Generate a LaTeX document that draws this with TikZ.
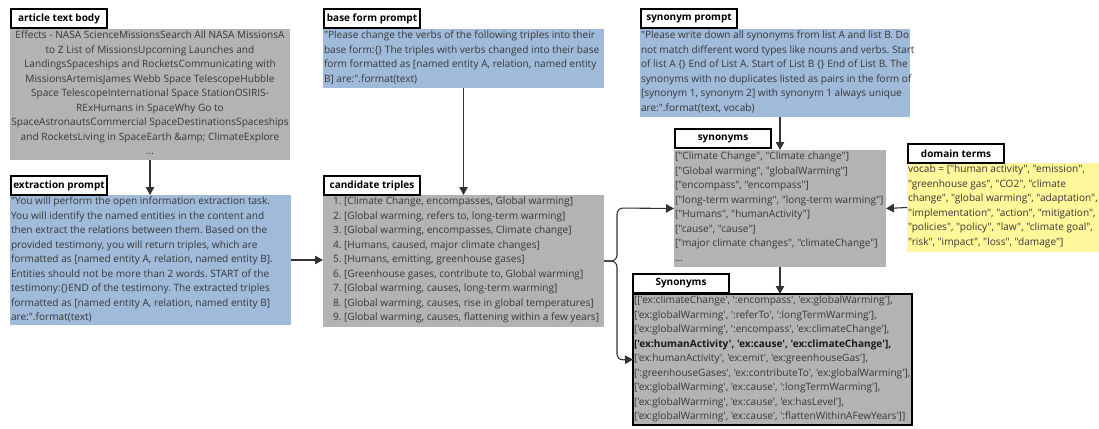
\documentclass[tikz,border=0pt]{standalone}
\usepackage{fontspec}
\newfontfamily\osans{Open Sans}
\usetikzlibrary{arrows.meta}
\definecolor{boxgrey}{RGB}{179,179,179}
\definecolor{boxblue}{RGB}{160,186,218}
\definecolor{boxyellow}{RGB}{255,247,153}
\definecolor{txtgrey}{RGB}{55,55,55}
\frenchspacing
\begin{document}
\begin{tikzpicture}[x=1pt,y=-1pt,
  every node/.style={inner sep=0pt, outer sep=0pt},
  body/.style={font=\osans\frenchspacing\fontsize{10.1}{14.5}\selectfont, text=txtgrey},
  panel/.style={anchor=north west, minimum width=#1},
  head/.style={draw=black, line width=2pt, fill=white, anchor=north west,
    minimum width=96, minimum height=19, font=\osans\bfseries\fontsize{10}{11}\selectfont},
  arr/.style={line width=1.1pt, draw=black!80, -{Triangle[length=8pt,width=8.5pt]}}]
\useasboundingbox (0,0) rectangle (1099,428);

% ---------- article text body ----------
\node[panel=280, fill=boxgrey, minimum height=131] (art) at (10,29) {};
\node[body, align=center, anchor=north] (artT) at (150,31) {Effects - NASA ScienceMissionsSearch All NASA MissionsA\\
to Z List of MissionsUpcoming Launches and\\
LandingsSpaceships and RocketsCommunicating with\\
MissionsArtemisJames Webb Space TelescopeHubble\\
Space TelescopeInternational Space StationOSIRIS-\\
RExHumans in SpaceWhy Go to\\
SpaceAstronautsCommercial SpaceDestinationsSpaceships\\
and RocketsLiving in SpaceEarth \&amp; ClimateExplore\\
...};
\node[head] (artH) at (11,9) {article text body};

% ---------- extraction prompt ----------
\node[panel=281, fill=boxblue, minimum height=130] (ext) at (10,195) {};
\node[body, align=left, anchor=north west] (extT) at (11,197) {"You will perform the open information extraction task.\\
You will identify the named entities in the content and\\
then extract the relations between them. Based on the\\
provided testimony, you will return triples, which are\\
formatted as [named entity A, relation, named entity B].\\
Entities should not be more than 2 words. START of the\\
testimony:\{\}END of the testimony. The extracted triples\\
formatted as [named entity A, relation, named entity B]\\
are:".format(text)};
\node[head] (extH) at (11,176) {extraction prompt};

% ---------- base form prompt ----------
\node[panel=281, fill=boxblue, minimum height=59] (base) at (323,29) {};
\node[body, align=left, anchor=north west] (baseT) at (324,31) {"Please change the verbs of the following triples into their\\
base form:\{\} The triples with verbs changed into their base\\
form formatted as [named entity A, relation, named entity\\
B] are:".format(text)};
\node[head] (baseH) at (324,9) {base form prompt};

% ---------- candidate triples ----------
\node[panel=281, fill=boxgrey, minimum height=132] (cand) at (323,195) {};
\node[body, align=left, anchor=north west] (candT) at (333,197) {1. [Climate Change, encompasses, Global warming]\\
2. [Global warming, refers to, long-term warming]\\
3. [Global warming, encompasses, Climate change]\\
4. [Humans, caused, major climate changes]\\
5. [Humans, emitting, greenhouse gases]\\
6. [Greenhouse gases, contribute to, Global warming]\\
7. [Global warming, causes, long-term warming]\\
8. [Global warming, causes, rise in global temperatures]\\
9. [Global warming, causes, flattening within a few years]};
\node[head] (candH) at (324,176) {candidate triples};

% ---------- synonym prompt ----------
\node[panel=270, fill=boxblue, minimum height=88] (synp) at (640,29) {};
\node[body, align=left, anchor=north west] (synpT) at (641,31) {"Please write down all synonyms from list A and list B. Do\\
not match different word types like nouns and verbs. Start\\
of list A \{\} End of List A. Start of List B \{\} End of List B. The\\
synonyms with no duplicates listed as pairs in the form of\\
{}[synonym 1, synonym 2] with synonym 1 always unique\\
are:".format(text, vocab)};
\node[head] (synpH) at (641,9) {synonym prompt};

% ---------- synonyms ----------
\node[panel=212, fill=boxgrey, minimum height=117] (syn) at (674,150) {};
\node[body, align=left, anchor=north west] (synT) at (675,152) {{}["Climate Change", "Climate change"]\\
{}["Global warming", "globalWarming"]\\
{}["encompass", "encompass"]\\
{}["long-term warming", "long-term warming"]\\
{}["Humans", "humanActivity"]\\
{}["cause", "cause"]\\
{}["major climate changes", "climateChange"]\\
...};
\node[head] (synH) at (675,129) {synonyms};

% ---------- domain terms ----------
\node[panel=192, fill=boxyellow, minimum height=89] (dom) at (907,163) {};
\node[body, align=left, anchor=north west] (domT) at (908,165) {vocab = ["human activity", "emission",\\
"greenhouse gas", "CO2", "climate\\
change", "global warming", "adaptation",\\
"implementation", "action", "mitigation",\\
"policies", "policy", "law", "climate goal",\\
"risk", "impact", "loss", "damage"]};
\node[head] (domH) at (908,144) {domain terms};

% ---------- resulting Synonyms ----------
\node[panel=279, fill=boxgrey, draw=black, line width=2.2pt, minimum height=131] (res) at (633,294) {};
\node[body, align=left, anchor=north west] (resT) at (634,296) {{}[['ex:climateChange', ':encompass', 'ex:globalWarming'],\\
{}['ex:globalWarming', ':referTo', ':longTermWarming'],\\
{}['ex:globalWarming', ':encompass', 'ex:climateChange'],\\
{\bfseries\color{black!90}['ex:humanActivity', 'ex:cause', 'ex:climateChange'],}\\
{}['ex:humanActivity', 'ex:emit', 'ex:greenhouseGas'],\\
{}[':greenhouseGases', 'ex:contributeTo', 'ex:globalWarming'],\\
{}['ex:globalWarming', 'ex:cause', ':longTermWarming'],\\
{}['ex:globalWarming', 'ex:cause', 'ex:hasLevel'],\\
{}['ex:globalWarming', 'ex:cause', ':flattenWithinAFewYears']]};
\node[head] (resH) at (633,274) {Synonyms};

% ---------- connectors ----------
\draw[arr] (art.south) -- (art.south |- ext.north);
\draw[arr] (ext.east) -- (ext.east -| cand.west);
\draw[arr] (base.south) -- (base.south |- cand.north);
\draw[arr] (syn.north |- synp.south) -- (syn.north);
\draw[arr] (dom.west) -- (syn.east);
\draw[arr] (syn.south) -- (syn.south |- res.north);
\draw[arr, rounded corners=6pt] (cand.east) -| (617,208) -- (syn.west);
\draw[arr, rounded corners=6pt] (cand.east) -| (617,360) -- (res.west);
\end{tikzpicture}
\end{document}
